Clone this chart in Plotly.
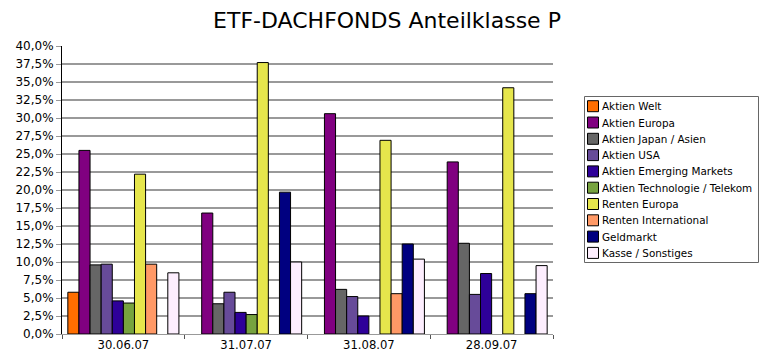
import plotly.graph_objects as go

dates = ["30.06.07", "31.07.07", "31.08.07", "28.09.07"]

series_names = [
    "Aktien Welt",
    "Aktien Europa",
    "Aktien Japan / Asien",
    "Aktien USA",
    "Aktien Emerging Markets",
    "Aktien Technologie / Telekom",
    "Renten Europa",
    "Renten International",
    "Geldmarkt",
    "Kasse / Sonstiges",
]

aktien_welt = [5.8, None, None, None]
aktien_europa = [25.5, 16.8, 30.6, 23.9]
aktien_japan = [9.6, 4.2, 6.2, 12.6]
aktien_usa = [9.7, 5.8, 5.2, 5.5]
aktien_emerging = [4.6, 3.0, 2.5, 8.4]
aktien_tech = [4.3, 2.7, None, None]
renten_europa = [22.2, 37.7, 26.9, 34.2]
renten_international = [9.7, None, 5.6, None]
geldmarkt = [None, 19.7, 12.5, 5.6]
kasse = [8.5, 10.0, 10.4, 9.5]

colors = ["#ff6e00", "#800080", "#666666", "#674b99", "#2e0099",
          "#77a33f", "#e6e64c", "#ff9966", "#000080", "#fdeefe"]

values = [aktien_welt, aktien_europa, aktien_japan, aktien_usa, aktien_emerging,
          aktien_tech, renten_europa, renten_international, geldmarkt, kasse]

# the page body adds an 8px offset; figure is sized to fill the rest of the window
OFF = 8
W, H = 770 - OFF, 359 - OFF
# plot area in window pixels: x 62..553, y 46..334
ML, MR, MT, MB = 62 - OFF, 770 - 553, 46 - OFF, 359 - 334
PW, PH = W - ML - MR, H - MT - MB


def px_x(px):
    return (px - OFF - ML) / PW


def px_y(py):
    return 1 - (py - OFF - MT) / PH


fig = go.Figure()
for name, vals, col in zip(series_names, values, colors):
    fig.add_trace(go.Bar(
        name=name,
        x=dates,
        y=[v / 100 if v is not None else None for v in vals],
        marker=dict(color=col, line=dict(color="#000000", width=1)),
    ))

# custom legend (box, swatches, labels)
shapes = [dict(type="rect", xref="paper", yref="paper",
               x0=px_x(584.5), x1=px_x(758.5), y0=px_y(96.5), y1=px_y(262.5),
               line=dict(color="#666666", width=1), fillcolor="white", layer="above")]
annotations = []
for i, (name, col) in enumerate(zip(series_names, colors)):
    cy = 106.2 + i * 16.3
    shapes.append(dict(type="rect", xref="paper", yref="paper",
                       x0=px_x(587.5), x1=px_x(598.5),
                       y0=px_y(cy - 5.5), y1=px_y(cy + 5.5),
                       line=dict(color="#000000", width=1), fillcolor=col, layer="above"))
    annotations.append(dict(text=name, xref="paper", yref="paper",
                            x=px_x(600), y=px_y(cy), xanchor="left", yanchor="middle",
                            showarrow=False,
                            font=dict(size=10.4, family="DejaVu Sans", color="#000000")))

fig.update_layout(
    width=W, height=H,
    barmode="group",
    bargap=0.095,
    bargroupgap=0,
    separators=",.",
    paper_bgcolor="white",
    plot_bgcolor="white",
    font=dict(family="DejaVu Sans", size=12, color="#000000"),
    margin=dict(l=ML, r=MR, t=MT, b=MB, autoexpand=False),
    title=dict(text="ETF-DACHFONDS Anteilklasse P", x=(387 - OFF) / W, xanchor="center",
               xref="container", y=1 - (20 - OFF) / H, yref="container", yanchor="middle",
               font=dict(size=22, family="DejaVu Sans", color="#000000")),
    showlegend=False,
    shapes=shapes,
    annotations=annotations,
    xaxis=dict(
        showgrid=False,
        automargin=False,
        showline=True, linecolor="#999999", linewidth=1,
        ticks="outside", tickson="boundaries", ticklen=4, tickcolor="#555555",
        tickfont=dict(size=11.6),
    ),
    yaxis=dict(
        range=[0, 0.4],
        dtick=0.025,
        tickformat=".1%",
        automargin=False,
        showgrid=True, gridcolor="#999999", gridwidth=1.5,
        showline=True, linecolor="#000000", linewidth=1,
        ticks="outside", ticklen=5, tickcolor="#999999",
        zeroline=False,
        tickfont=dict(size=12),
    ),
)

fig.write_html("out.html")
